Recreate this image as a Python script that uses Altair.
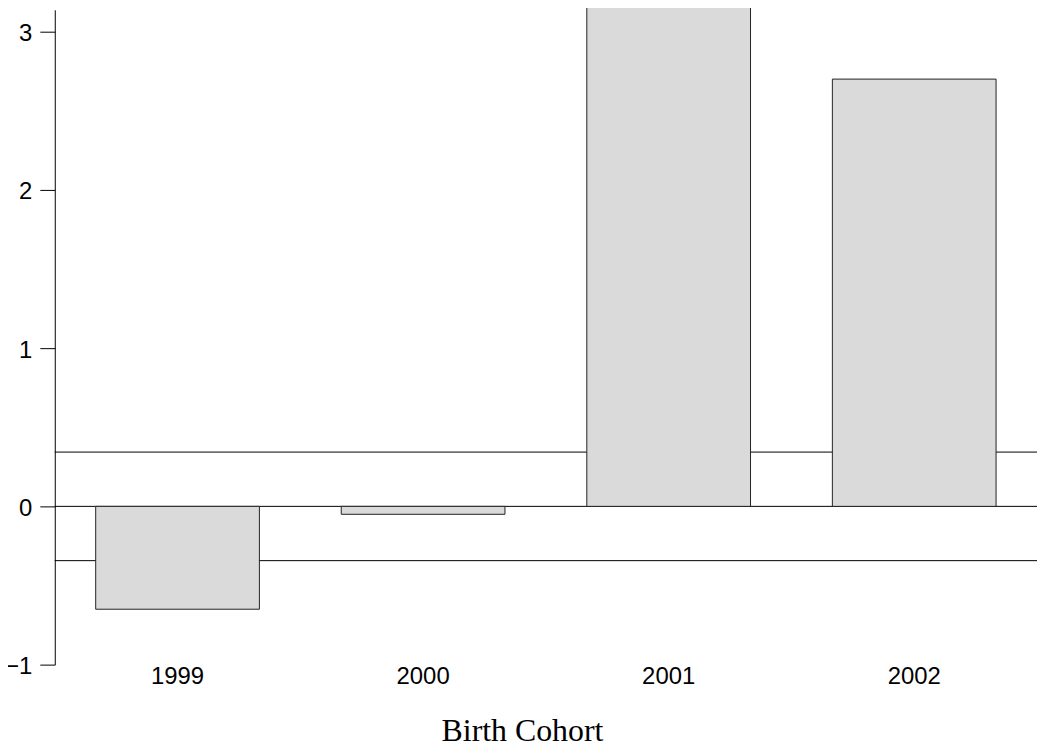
import altair as alt
import pandas as pd

cohorts = ["1999", "2000", "2001", "2002"]
values = [-0.65, -0.05, 3.17, 2.70]
ref_levels = [-0.343, 0.0, 0.343]
y_ticks = [-1, 0, 1, 2, 3]

bars_df = pd.DataFrame({"cohort": cohorts, "value": values})
rules_df = pd.DataFrame({"level": ref_levels})

yscale = alt.Scale(domain=[-1, 3.138], nice=False, zero=False)

y_axis = alt.Axis(
    values=y_ticks,
    grid=False,
    domainColor="black",
    tickColor="black",
    tickSize=15,
    labelPadding=8,
    labelOffset=2,
    labelFont="Liberation Sans",
    labelFontSize=24,
    labelColor="black",
    format="d",
)

rules = alt.Chart(rules_df).mark_rule(color="black", strokeWidth=1).encode(
    y=alt.Y("level:Q", scale=yscale, axis=y_axis, title="")
)

bars = alt.Chart(bars_df).mark_bar(fill="#dadada", stroke="#222222", strokeWidth=1).encode(
    x=alt.X(
        "cohort:N",
        sort=cohorts,
        scale=alt.Scale(paddingInner=1 / 3, paddingOuter=1 / 6),
        axis=alt.Axis(
            title="Birth Cohort",
            domain=False,
            ticks=False,
            tickSize=0,
            labelAngle=0,
            labelFont="Liberation Sans",
            labelFontSize=24,
            labelColor="black",
            labelBaseline="alphabetic",
            labelPadding=19,
            titleFont="Liberation Serif",
            titleFontSize=32,
            titleFontWeight="normal",
            titleColor="black",
            titleBaseline="alphabetic",
            titleAlign="center",
            titleX=469.5,
            titleY=76,
        ),
    ),
    y=alt.Y("value:Q", scale=yscale, axis=y_axis, title=""),
    y2=alt.datum(0),
)

chart = (
    alt.layer(rules, bars)
    .properties(
        width=987,
        height=658,
        autosize=alt.AutoSizeParams(type="none"),
        padding={"left": 47, "top": 0, "right": 0, "bottom": 85},
        background="white",
    )
    .configure_view(strokeWidth=0)
)

chart.save("out.html", embed_options={"renderer": "svg", "actions": False})
